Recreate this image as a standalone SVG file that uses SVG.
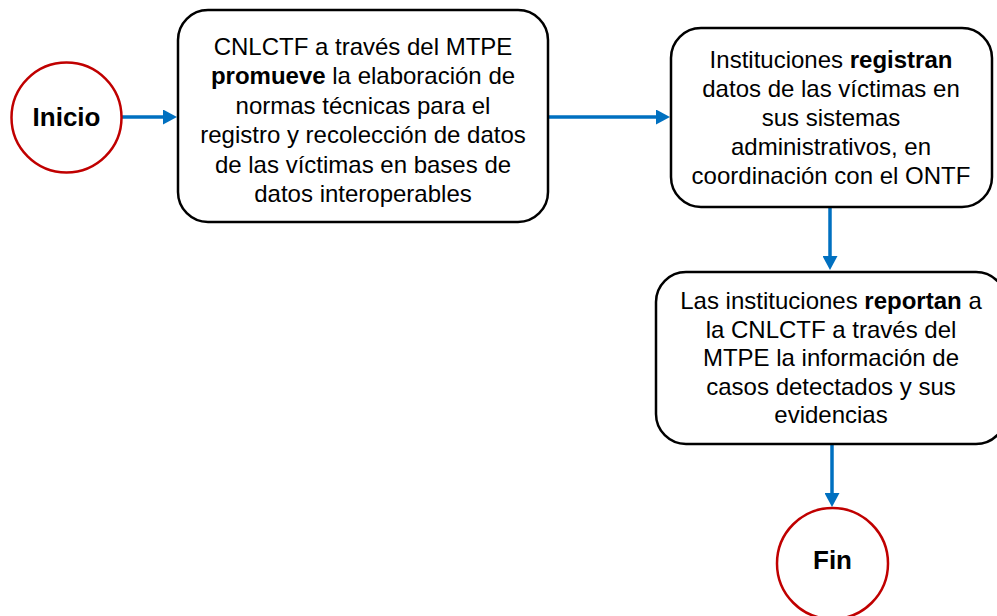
<svg xmlns="http://www.w3.org/2000/svg" width="997" height="616" viewBox="0 0 997 616">
<style>
.box{fill:#fff;stroke:#000;stroke-width:2.5}
.term{fill:#fff;stroke:#C00000;stroke-width:2.5}
.t{font-family:"Liberation Sans",Arial,sans-serif;font-size:24px;fill:#000;text-anchor:middle}
.tb{font-family:"Liberation Sans",Arial,sans-serif;font-size:26px;font-weight:bold;fill:#000;text-anchor:middle}
.b{font-weight:bold}
.conn{stroke:#0070C0;stroke-width:3.5;fill:none;marker-end:url(#ah)}
</style>
<defs>
<marker id="ah" markerUnits="userSpaceOnUse" markerWidth="14" markerHeight="15" refX="7" refY="7.5" orient="auto">
<path d="M0,0 L14,7.5 L0,15 z" fill="#0070C0"/>
</marker>
</defs>
<rect width="997" height="616" fill="#fff"/>
<g id="connectors">
<line class="conn" x1="120" y1="117" x2="170" y2="117"/>
<line class="conn" x1="549" y1="117" x2="663" y2="117"/>
<line class="conn" x1="830" y1="207" x2="830" y2="263"/>
<line class="conn" x1="832" y1="444" x2="832" y2="500"/>
</g>
<g id="inicio">
<circle class="term" cx="66.5" cy="117.5" r="55"/>
<text class="tb" x="66.5" y="126">Inicio</text>
</g>
<g id="promueve">
<rect class="box" x="178" y="10" width="370" height="212" rx="30"/>
<text class="t" x="363" y="55">CNLCTF a través del MTPE</text>
<text class="t" x="363" y="84"><tspan class="b">promueve</tspan> la elaboración de</text>
<text class="t" x="363" y="114">normas técnicas para el</text>
<text class="t" x="363" y="143">registro y recolección de datos</text>
<text class="t" x="363" y="173">de las víctimas en bases de</text>
<text class="t" x="363" y="202">datos interoperables</text>
</g>
<g id="registran">
<rect class="box" x="671" y="28" width="321" height="179" rx="30"/>
<text class="t" x="831" y="68">Instituciones <tspan class="b">registran</tspan></text>
<text class="t" x="831" y="97">datos de las víctimas en</text>
<text class="t" x="831" y="126">sus sistemas</text>
<text class="t" x="831" y="155">administrativos, en</text>
<text class="t" x="831" y="184">coordinación con el ONTF</text>
</g>
<g id="reportan">
<rect class="box" x="656" y="272" width="350" height="172" rx="30"/>
<text class="t" x="831" y="309">Las instituciones <tspan class="b">reportan</tspan> a</text>
<text class="t" x="831" y="338">la CNLCTF a través del</text>
<text class="t" x="831" y="366">MTPE la información de</text>
<text class="t" x="831" y="395">casos detectados y sus</text>
<text class="t" x="831" y="423">evidencias</text>
</g>
<g id="fin">
<circle class="term" cx="832.5" cy="563.5" r="55.5"/>
<text class="tb" x="832.5" y="569">Fin</text>
</g>
</svg>
